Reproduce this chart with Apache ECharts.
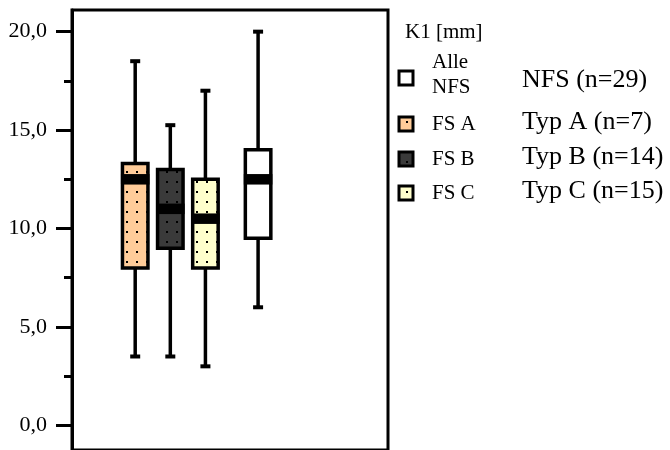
<!DOCTYPE html>
<html>
<head>
<meta charset="utf-8">
<script src="https://cdn.jsdelivr.net/npm/echarts@6/dist/echarts.min.js"></script>
<style>
html,body{margin:0;padding:0;background:#fff;}
#chart{width:670px;height:450px;}
</style>
</head>
<body>
<div id="chart"></div>
<script>
// ---- data ----
const categories = ['FS A', 'FS B', 'FS C', 'Alle NFS'];
const minValues    = [3.5, 3.5, 3.0, 6.0];
const q1Values     = [8.0, 9.0, 8.0, 9.5];
const medianValues = [12.5, 11.0, 10.5, 12.5];
const q3Values     = [13.3, 13.0, 12.5, 14.0];
const maxValues    = [18.5, 15.25, 17.0, 20.0];
const yTickValues  = [0, 5, 10, 15, 20];
const yMinorTicks  = [2.5, 7.5, 12.5, 17.5];
const legendTitle  = 'K1 [mm]';
const legendOrder  = ['Alle NFS', 'FS A', 'FS B', 'FS C'];
const legendLabels = ['Alle\nNFS', 'FS A', 'FS B', 'FS C'];
const groupTexts   = ['NFS (n=29)', 'Typ A (n=7)', 'Typ B (n=14)', 'Typ C (n=15)'];

// ---- layout / style ----
const slots = [1, 2, 3, 4.5];
const FONT = 'Liberation Serif';
const styles = {
  'FS A': { bg: '#ffcc99', dots: true },
  'FS B': { bg: '#3a3a3a', dots: true },
  'FS C': { bg: '#ffffcc', dots: true },
  'Alle NFS': { bg: '#ffffff', dots: false }
};
function makePattern(bg, dots) {
  const c = document.createElement('canvas');
  c.width = 10; c.height = 10;
  const g = c.getContext('2d');
  g.fillStyle = bg; g.fillRect(0, 0, 10, 10);
  if (dots) { g.fillStyle = '#000'; g.fillRect(6, 1, 2, 2); }
  return { image: c, repeat: 'repeat' };
}
const fills = {};
categories.forEach(k => { fills[k] = makePattern(styles[k].bg, styles[k].dots); });

const seriesData = categories.map((c, i) => [slots[i], minValues[i], q1Values[i], medianValues[i], q3Values[i], maxValues[i], i]);

const BOX_W = 25.5, CAP_W = 10, MED_H = 10.5, LW = 3.5;
function renderItem(params, api) {
  const x = api.value(0);
  const idx = api.value(6);
  const pMin = api.coord([x, api.value(1)]);
  const pQ1 = api.coord([x, api.value(2)]);
  const pMed = api.coord([x, api.value(3)]);
  const pQ3 = api.coord([x, api.value(4)]);
  const pMax = api.coord([x, api.value(5)]);
  const cx = pMin[0];
  const ls = { stroke: '#000', lineWidth: LW };
  return {
    type: 'group',
    children: [
      { type: 'line', shape: { x1: cx, y1: pQ1[1], x2: cx, y2: pMin[1] }, style: ls },
      { type: 'line', shape: { x1: cx, y1: pQ3[1], x2: cx, y2: pMax[1] }, style: ls },
      { type: 'rect', shape: { x: cx - CAP_W / 2, y: pMin[1] - 2, width: CAP_W, height: 4 }, style: { fill: '#000' } },
      { type: 'rect', shape: { x: cx - CAP_W / 2, y: pMax[1] - 2, width: CAP_W, height: 4 }, style: { fill: '#000' } },
      { type: 'rect', shape: { x: cx - BOX_W / 2, y: pQ3[1], width: BOX_W, height: pQ1[1] - pQ3[1] },
        style: { fill: fills[categories[idx]], stroke: '#000', lineWidth: LW } },
      { type: 'rect', shape: { x: cx - BOX_W / 2 - 1.5, y: pMed[1] - MED_H / 2, width: BOX_W + 3, height: MED_H },
        style: { fill: '#000' } }
    ]
  };
}

// legend graphics
const iconY = [78, 124, 159, 193];
const labelY = [75, 124, 159, 193];
const textY = [80, 122, 157, 191];
const graphics = [
  { type: 'text', x: 405, y: 32, style: { text: legendTitle, fontFamily: FONT, fontSize: 21, fill: '#000', verticalAlign: 'middle' } }
];
legendOrder.forEach((name, i) => {
  graphics.push({ type: 'rect', shape: { x: 399, y: iconY[i] - 7, width: 14, height: 14 },
    style: { fill: fills[name], stroke: '#000', lineWidth: 3 } });
  graphics.push({ type: 'text', x: 432, y: labelY[i],
    style: { text: legendLabels[i], fontFamily: FONT, fontSize: 21, fill: '#000', verticalAlign: 'middle', lineHeight: 25 } });
  graphics.push({ type: 'text', x: 522, y: textY[i],
    style: { text: groupTexts[i], fontFamily: FONT, fontSize: 26, fill: '#000', verticalAlign: 'middle' } });
});

const chart = echarts.init(document.getElementById('chart'), null, { renderer: 'canvas' });
chart.setOption({
  animation: false,
  backgroundColor: '#fff',
  grid: { left: 72, right: 282, top: 10, bottom: -5, show: true, borderColor: '#000', borderWidth: 3, backgroundColor: 'transparent' },
  xAxis: { type: 'value', min: -0.8, max: 8.2, show: false },
  yAxis: [
    { type: 'value', min: -1.25, max: 21.1, position: 'left',
      axisLine: { show: true, onZero: false, lineStyle: { color: '#000', width: 3 } },
      axisTick: { show: true, length: 16, customValues: yTickValues, lineStyle: { color: '#000', width: 3 } },
      axisLabel: { show: true, customValues: yTickValues, margin: 25, color: '#000', fontFamily: FONT, fontSize: 22,
        formatter: v => v.toFixed(1).replace('.', ',') },
      splitLine: { show: false } },
    { type: 'value', min: -1.25, max: 21.1, position: 'left',
      axisLine: { show: false, onZero: false },
      axisTick: { show: true, length: 8, customValues: yMinorTicks, lineStyle: { color: '#000', width: 3 } },
      axisLabel: { show: false },
      splitLine: { show: false } }
  ],
  graphic: graphics,
  series: [{
    type: 'custom',
    renderItem: renderItem,
    encode: { x: 0, y: [1, 2, 3, 4, 5] },
    data: seriesData,
    clip: false
  }]
});
</script>
</body>
</html>
